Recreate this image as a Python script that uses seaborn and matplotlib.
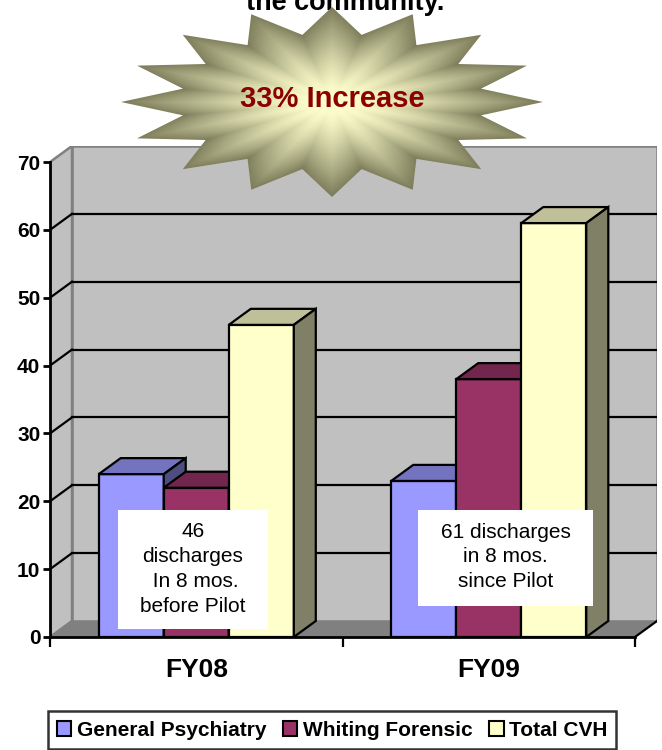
import numpy as np
import pandas as pd
import matplotlib
matplotlib.use("Agg")
import matplotlib.pyplot as plt
import seaborn as sns
from matplotlib.patches import Polygon, Rectangle, Patch
from matplotlib.colors import to_rgb

# ---------------- data ----------------
years = ["FY08", "FY09"]
series = ["General Psychiatry", "Whiting Forensic", "Total CVH"]
general_psychiatry = [24, 23]
whiting_forensic = [22, 38]
total_cvh = [46, 61]
y_ticks = [0, 10, 20, 30, 40, 50, 60, 70]
colors = ["#9999FF", "#993366", "#FFFFCC"]
note_fy08 = "46\ndischarges\n In 8 mos.\nbefore Pilot"
note_fy09 = "61 discharges\nin 8 mos.\nsince Pilot"
title_text = "the community."
burst_text = "33% Increase"

df = pd.DataFrame({
    "year": years * len(series),
    "series": np.repeat(series, len(years)),
    "value": general_psychiatry + whiting_forensic + total_cvh,
})

plt.rcParams["font.family"] = ["Liberation Sans", "DejaVu Sans"]

W, H = 662, 750
fig = plt.figure(figsize=(W / 100, H / 100), dpi=100)
fig.patch.set_facecolor("white")

# axes geometry in pixels (front plane + depth)
L, R, B, T = 50, 657, 637, 146
ax = fig.add_axes([L / W, 1 - B / H, (R - L) / W, (B - T) / H])

px_per_x = 585 / 2.0
px_per_y = (637 - 163) / 70.0
DX = 22 / px_per_x
DY = 16 / px_per_y
ymax = y_ticks[-1]

sns.barplot(data=df, x="year", y="value", hue="series", palette=colors,
            width=0.667, saturation=1, edgecolor="black", linewidth=1.6,
            ax=ax, legend=False)

ax.set_xlim(-0.5, 1.5 + DX)
ax.set_ylim(0, ymax + DY)
ax.set_facecolor("none")

# walls / floor
ax.add_patch(Rectangle((-0.5 + DX, DY), 2, ymax, facecolor="#C0C0C0",
                       edgecolor="#808080", lw=1.8, zorder=0.5))
ax.add_patch(Polygon([(-0.5, 0), (-0.5 + DX, DY), (-0.5 + DX, ymax + DY), (-0.5, ymax)],
                     closed=True, facecolor="#C0C0C0", edgecolor="#808080", lw=1.8, zorder=0.5))
ax.add_patch(Polygon([(-0.5, 0), (1.5, 0), (1.5 + DX, DY), (-0.5 + DX, DY)],
                     closed=True, facecolor="#808080", edgecolor="none", zorder=0.6))
for t in y_ticks[1:-1]:
    ax.plot([-0.5 + DX, 1.5 + DX], [t + DY, t + DY], color="black", lw=1.6, zorder=0.7)
    ax.plot([-0.5, -0.5 + DX], [t, t + DY], color="black", lw=1.6, zorder=0.7)
ax.plot([1.5, 1.5 + DX], [0, DY], color="black", lw=1.6, zorder=0.7)

# 3D faces for bars
for k, cont in enumerate(ax.containers):
    base = np.array(to_rgb(colors[k]))
    top_c = base * 0.75
    side_c = base * 0.5
    for p in cont:
        p.set_zorder(2 + k)
        x0, w, h = p.get_x(), p.get_width(), p.get_height()
        ax.add_patch(Polygon([(x0, h), (x0 + w, h), (x0 + w + DX, h + DY), (x0 + DX, h + DY)],
                             closed=True, facecolor=top_c, edgecolor="black", lw=1.6,
                             joinstyle="miter", zorder=2 + k))
        ax.add_patch(Polygon([(x0 + w, 0), (x0 + w + DX, DY), (x0 + w + DX, h + DY), (x0 + w, h)],
                             closed=True, facecolor=side_c, edgecolor="black", lw=1.6,
                             joinstyle="miter", zorder=2 + k))

# spines & ticks
for s in ["top", "right"]:
    ax.spines[s].set_visible(False)
ax.spines["left"].set_bounds(0, ymax)
ax.spines["bottom"].set_bounds(-0.5, 1.5)
for s in ["left", "bottom"]:
    ax.spines[s].set_linewidth(2)
    ax.spines[s].set_color("black")
    ax.spines[s].set_zorder(10)

ax.set_yticks(y_ticks)
ax.set_yticklabels([str(t) for t in y_ticks], fontsize=15, fontweight="bold")
ax.tick_params(axis="y", length=5, width=2, color="black", pad=2, left=True)
ax.set_xticks([0, 1])
ax.set_xticklabels(years, fontsize=19, fontweight="bold")
ax.set_xticks([-0.5, 0.5, 1.5], minor=True)
ax.tick_params(axis="x", which="major", length=0, pad=15)
ax.tick_params(axis="x", which="minor", length=7, width=1.6, color="black", bottom=True)
ax.set_xlabel("")
ax.set_ylabel("")

# ---------------- overlay (pixel coords) ----------------
ov = fig.add_axes([0, 0, 1, 1], zorder=5)
ov.set_xlim(0, W)
ov.set_ylim(H, 0)
ov.axis("off")
ov.patch.set_alpha(0)

# starburst with radial, star-shaped gradient
cx, cy, rx, ry = 332, 102, 211, 95
n = 16
inner = 0.72
ang = np.deg2rad(90 - np.arange(2 * n) * (360 / (2 * n)))
rad = np.where(np.arange(2 * n) % 2 == 0, 1.0, inner)
pts = np.column_stack([cx + rx * rad * np.cos(ang), cy - ry * rad * np.sin(ang)])
star = Polygon(pts, closed=True, facecolor="none", edgecolor="none")
ov.add_patch(star)
gx = np.linspace(cx - rx, cx + rx, 500)
gy = np.linspace(cy - ry, cy + ry, 250)
XX, YY = np.meshgrid(gx, gy)
ux = (XX - cx) / rx
uy = -(YY - cy) / ry
rr = np.sqrt(ux ** 2 + uy ** 2)
phi = np.mod(np.degrees(np.arctan2(uy, ux)) - 90, 360)
step = 360 / (2 * n)
frac = np.mod(phi, 2 * step) / step
tri = np.where(frac <= 1, frac, 2 - frac)
rb = 1.0 - (1.0 - inner) * tri
tt = np.clip((rr / rb - 0.12) / 0.88, 0, 1) ** 1.25
c_in = np.array(to_rgb("#FCFCCB"))
c_out = np.array(to_rgb("#7C7C5A"))
img = c_in[None, None, :] * (1 - tt[..., None]) + c_out[None, None, :] * tt[..., None]
im = ov.imshow(img, extent=(cx - rx, cx + rx, cy + ry, cy - ry), origin="upper",
               aspect="auto", interpolation="bilinear", zorder=1)
im.set_clip_path(star)
ov.set_xlim(0, W)
ov.set_ylim(H, 0)
ov.text(cx, 99, burst_text, ha="center", va="center", fontsize=21,
        fontweight="bold", color="#8B0000", zorder=3)

# title (partially cut at top, as in the reference)
fig.text(345 / W, 1 - 10 / H, title_text, ha="center", va="baseline",
         fontsize=19.5, fontweight="bold", color="black")

# note boxes
ov.add_patch(Rectangle((118, 510), 150, 119, facecolor="white", edgecolor="none", zorder=4))
ov.text(193, 569, note_fy08, ha="center", va="center", fontsize=15,
        linespacing=1.38, multialignment="center", zorder=5)
ov.add_patch(Rectangle((418, 510), 175, 96, facecolor="white", edgecolor="none", zorder=4))
ov.text(505.5, 557, note_fy09, ha="center", va="center", fontsize=15,
        linespacing=1.38, multialignment="center", zorder=5)

# legend
handles = [Patch(facecolor=c, edgecolor="black", lw=1.5, label=s) for s, c in zip(series, colors)]
leg = fig.legend(handles=handles, loc="center", bbox_to_anchor=(332 / W, 1 - 730 / H),
                 ncol=3, frameon=True, fancybox=False, edgecolor="black",
                 prop={"weight": "bold", "size": 15}, handlelength=0.7, handleheight=0.7,
                 handletextpad=0.25, columnspacing=0.8, borderpad=0.45, borderaxespad=0)
leg.get_frame().set_linewidth(1.8)

fig.savefig("out.png", dpi=100, facecolor="white")
